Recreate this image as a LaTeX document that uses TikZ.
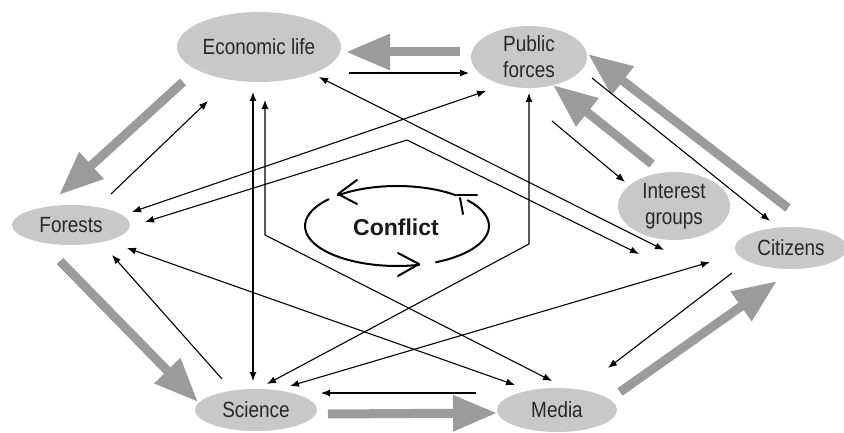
\documentclass[tikz,border=0pt]{standalone}
\usepackage{fontspec}
\setmainfont{Liberation Sans}[FakeStretch=0.86]
\newfontfamily\conffont{Liberation Sans}
\usetikzlibrary{arrows.meta,shapes.geometric,calc}
\definecolor{nodegray}{RGB}{200,200,200}
\definecolor{arrgray}{RGB}{155,155,155}
\definecolor{txtgray}{RGB}{40,40,40}
\tikzset{
  actor/.style={ellipse, fill=nodegray, draw=none, inner sep=0pt, align=center,
    text=txtgray, font=\fontsize{22}{26}\selectfont},
  bigarrow/.style={draw=arrgray, line width=9pt, -{Triangle[length=44pt,width=34pt]}},
  thin/.style={draw=black, line width=1.1pt, -{Latex[length=9pt,width=7pt]}},
  both/.style={draw=black, line width=1.1pt, {Latex[length=9pt,width=7pt]}-{Latex[length=9pt,width=7pt]}},
  conf/.style={draw=black, line width=2pt, line cap=round, line join=round},
}
\begin{document}
\begin{tikzpicture}[x=1pt,y=-1pt]
\useasboundingbox (0,0) rectangle (844,433);
\fill[white] (0,0) rectangle (844,433);

% actors
\node[actor, minimum width=164pt, minimum height=70pt] (econ) at (259,47) {Economic life};
\node[actor, minimum width=116pt, minimum height=62pt] (pub) at (529,57) {Public\\forces};
\node[actor, minimum width=112pt, minimum height=68pt] (int) at (674,206) {Interest\\groups};
\node[actor, minimum width=112pt, minimum height=42pt] (cit) at (791,248) {Citizens};
\node[actor, minimum width=118pt, minimum height=40pt] (for) at (71,225) {Forests};
\node[actor, minimum width=122pt, minimum height=42pt] (sci) at (256,410) {Science};
\node[actor, minimum width=120pt, minimum height=44pt] (med) at (557,410) {Media};

% conflict
\node[font=\conffont\bfseries\fontsize{23}{26}\selectfont, text=black!90] (cf) at (396,227) {Conflict};
\coordinate (cc) at (397,226);
\draw[conf] ($(cc)+(-65:92pt and 40pt)$) arc[start angle=-65, end angle=40, x radius=92pt, y radius=40pt];
\draw[conf] ($(cc)+(50:92pt and 40pt)$) arc[start angle=50, end angle=130, x radius=92pt, y radius=40pt];
\draw[conf] ($(cc)+(138:92pt and 40pt)$) arc[start angle=138, end angle=284, x radius=92pt, y radius=40pt];
\coordinate (b1a) at (357,180); \coordinate (b1t) at (338,194); \coordinate (b1b) at (357,204);
\draw[conf] (b1a) -- (b1t) -- (b1b);
\coordinate (b2a) at (398,253); \coordinate (b2t) at (419,264); \coordinate (b2b) at (398,276);
\draw[conf] (b2a) -- (b2t) -- (b2b);
\coordinate (tk1) at (477,195); \coordinate (tk2) at (457,195);
\coordinate (tk3) at (460,198); \coordinate (tk4) at (463,214);
\draw[conf] (tk1) -- (tk2);
\draw[conf] (tk3) -- (tk4);

% end points of connectors
\coordinate (econ-a) at (460,52);  \coordinate (econ-b) at (346,52);
\coordinate (econ-c) at (349,73);  \coordinate (pub-c)  at (469,73);
\coordinate (econ-d) at (183,82);  \coordinate (for-d)  at (59,195);
\coordinate (for-e)  at (111,194); \coordinate (econ-e) at (208,101);
\coordinate (for-f)  at (60,261);  \coordinate (sci-f)  at (198,402);
\coordinate (sci-g)  at (222,379); \coordinate (for-g)  at (112,255);
\coordinate (econ-h) at (253,92);  \coordinate (sci-h)  at (253,381);
\coordinate (econ-i) at (265,100); \coordinate (bend-i) at (265,235); \coordinate (med-i) at (552,381);
\coordinate (pub-j)  at (529,93);  \coordinate (bend-j) at (529,244); \coordinate (sci-j) at (267,384);
\coordinate (sci-k)  at (290,386); \coordinate (cit-k)  at (710,262);
\coordinate (for-l)  at (127,248); \coordinate (med-l)  at (515,385);
\coordinate (for-m)  at (132,212); \coordinate (pub-m)  at (486,91);
\coordinate (for-n)  at (145,222); \coordinate (bend-n) at (407,140); \coordinate (end-n) at (639,254);
\coordinate (econ-o) at (319,77);  \coordinate (end-o)  at (664,250);
\coordinate (pub-p)  at (552,121); \coordinate (int-p)  at (625,182);
\coordinate (int-q)  at (652,164); \coordinate (pub-q)  at (553,85);
\coordinate (pub-r)  at (592,78);  \coordinate (cit-r)  at (770,221);
\coordinate (cit-s)  at (788,208); \coordinate (pub-s)  at (588,54);
\coordinate (cit-t)  at (732,273); \coordinate (med-t)  at (608,368);
\coordinate (med-u)  at (620,392); \coordinate (cit-u)  at (777,281);
\coordinate (med-v)  at (476,393); \coordinate (sci-v)  at (321,393);
\coordinate (sci-w)  at (328,414); \coordinate (med-w)  at (497,413);

% big grey arrows
\draw[bigarrow] (econ-a) -- (econ-b);
\draw[bigarrow] (econ-d) -- (for-d);
\draw[bigarrow] (for-f) -- (sci-f);
\draw[bigarrow] (int-q) -- (pub-q);
\draw[bigarrow] (cit-s) -- (pub-s);
\draw[bigarrow] (med-u) -- (cit-u);
\draw[bigarrow] (sci-w) -- (med-w);

% thin arrows
\draw[thin] (econ-c) -- (pub-c);
\draw[thin] (for-e) -- (econ-e);
\draw[thin] (sci-g) -- (for-g);
\draw[both] (econ-h) -- (sci-h);
\draw[both] (econ-i) -- (bend-i) -- (med-i);
\draw[both] (pub-j) -- (bend-j) -- (sci-j);
\draw[both] (sci-k) -- (cit-k);
\draw[both] (for-l) -- (med-l);
\draw[both] (for-m) -- (pub-m);
\draw[both] (for-n) -- (bend-n) -- (end-n);
\draw[both] (econ-o) -- (end-o);
\draw[thin] (pub-p) -- (int-p);
\draw[thin] (pub-r) -- (cit-r);
\draw[thin] (cit-t) -- (med-t);
\draw[thin] (med-v) -- (sci-v);
\end{tikzpicture}
\end{document}
